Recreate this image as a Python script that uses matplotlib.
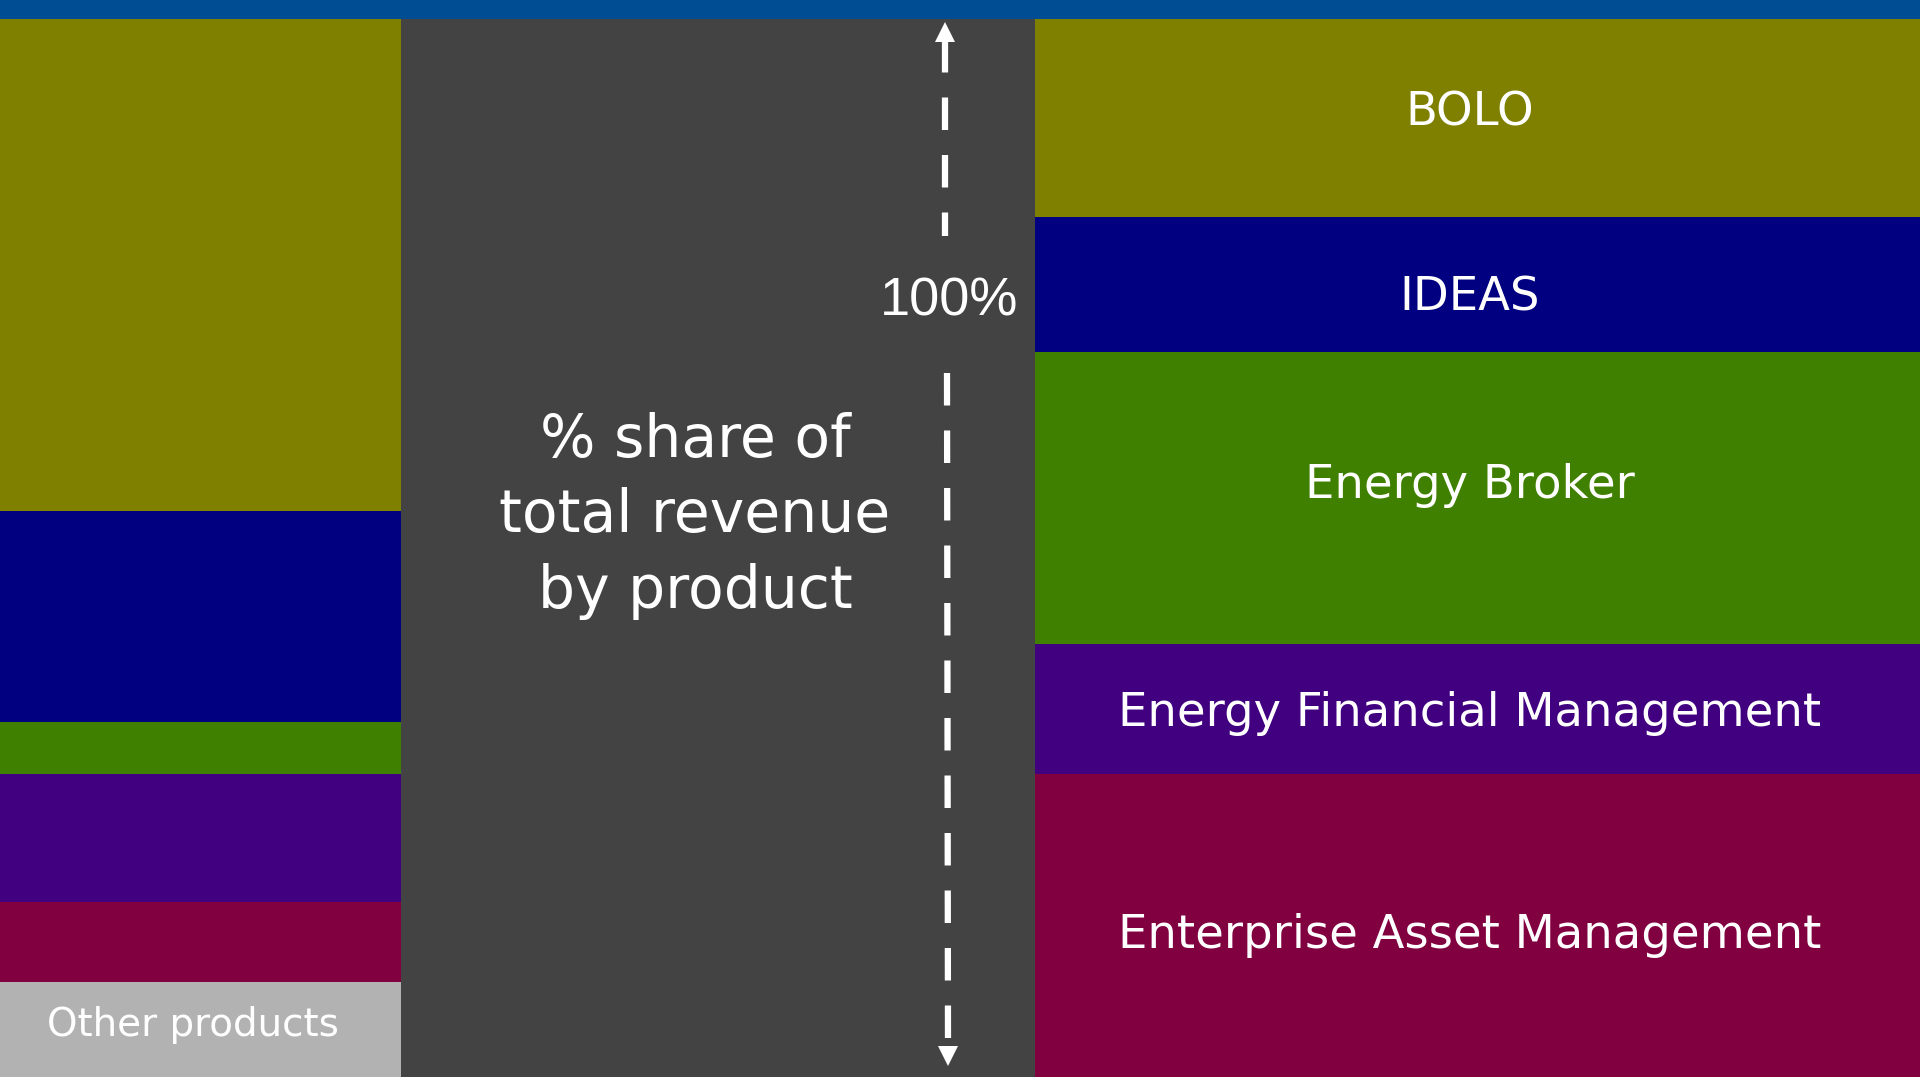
import matplotlib
matplotlib.use('Agg')
import matplotlib.pyplot as plt
import numpy as np
from matplotlib.patches import Rectangle

# share of total revenue by product, in percent (stack order top -> bottom)
products = ['BOLO', 'IDEAS', 'Energy Broker', 'Energy Financial Management',
            'Enterprise Asset Management', 'Other products']
share_left = [46.5, 19.9, 5.0, 12.1, 7.5, 9.0]
share_right = [18.7, 12.8, 27.6, 12.3, 28.6, 0.0]
colors = ['#808000', '#000080', '#408000', '#400080', '#800040', '#b2b2b2']

W, H = 1920, 1077
band = 19

fig = plt.figure(figsize=(W / 100, H / 100), dpi=100)
fig.patch.set_facecolor('#434343')

ax = fig.add_axes([0, 0, 1, 1 - band / H])
ax.set_facecolor('#434343')
ax.set_xlim(0, W)
ax.set_ylim(100, 0)
ax.axis('off')

# left column: x 0..401, right column: x 1035..1920
left_x, left_w = 200.5, 401
right_x, right_w = 1477.5, 885

bottom_l = np.concatenate([[0], np.cumsum(share_left)[:-1]])
bottom_r = np.concatenate([[0], np.cumsum(share_right)[:-1]])
ax.bar(left_x, share_left, bottom=bottom_l, width=left_w, color=colors, linewidth=0)
ax.bar(right_x, share_right, bottom=bottom_r, width=right_w, color=colors, linewidth=0)

tr = ax.transAxes
def fy(py):
    # pixel row (from top of image) -> axes fraction
    return 1 - (py - band) / (H - band)

font = ['DejaVu Sans']
# label nudges in pixels (labels are not exactly centred in the original)
nudge = [-5, 13, -13, 4, 10]
for name, b, v, dy in zip(products, bottom_r, share_right, nudge):
    if v > 0:
        ax.annotate(name, (right_x - 8, b + v / 2), xytext=(0, -dy * 0.72),
                    textcoords='offset points', ha='center', va='center',
                    color='white', fontsize=33.5, family=font)

ax.annotate(products[-1], (left_x - 8, bottom_l[-1] + share_left[-1] / 2),
            xytext=(0, 3), textcoords='offset points', ha='center', va='center',
            color='white', fontsize=28, family=font)

ax.text(695 / W, fy(516), '% share of\ntotal revenue\nby product',
        transform=tr, ha='center', va='center', color='white',
        fontsize=42, family=font, linespacing=1.42)

# 100% arrow
ax.text(949 / W, fy(301), '100%', transform=tr,
        ha='center', va='center', color='white', fontsize=39,
        family=['Liberation Sans Narrow', 'Liberation Sans'])

ax.plot([945 / W, 945 / W], [fy(40), fy(236)], transform=tr, color='white',
        lw=4.5, ls=(0, (5.2, 4.0)), solid_capstyle='butt')
ax.plot([947 / W, 948 / W], [fy(373), fy(1045)], transform=tr, color='white',
        lw=4.5, ls=(0, (5.2, 4.0)), solid_capstyle='butt')
ax.plot([945 / W], [fy(32)], transform=tr, marker='^', color='white', ms=14, mew=0)
ax.plot([948 / W], [fy(1056)], transform=tr, marker='v', color='white', ms=14, mew=0)

# top blue band
fig.patches.append(Rectangle((0, 1 - band / H), 1, band / H, transform=fig.transFigure,
                             facecolor='#014d93', edgecolor='none'))

fig.savefig('out.png', dpi=100, facecolor=fig.get_facecolor())
